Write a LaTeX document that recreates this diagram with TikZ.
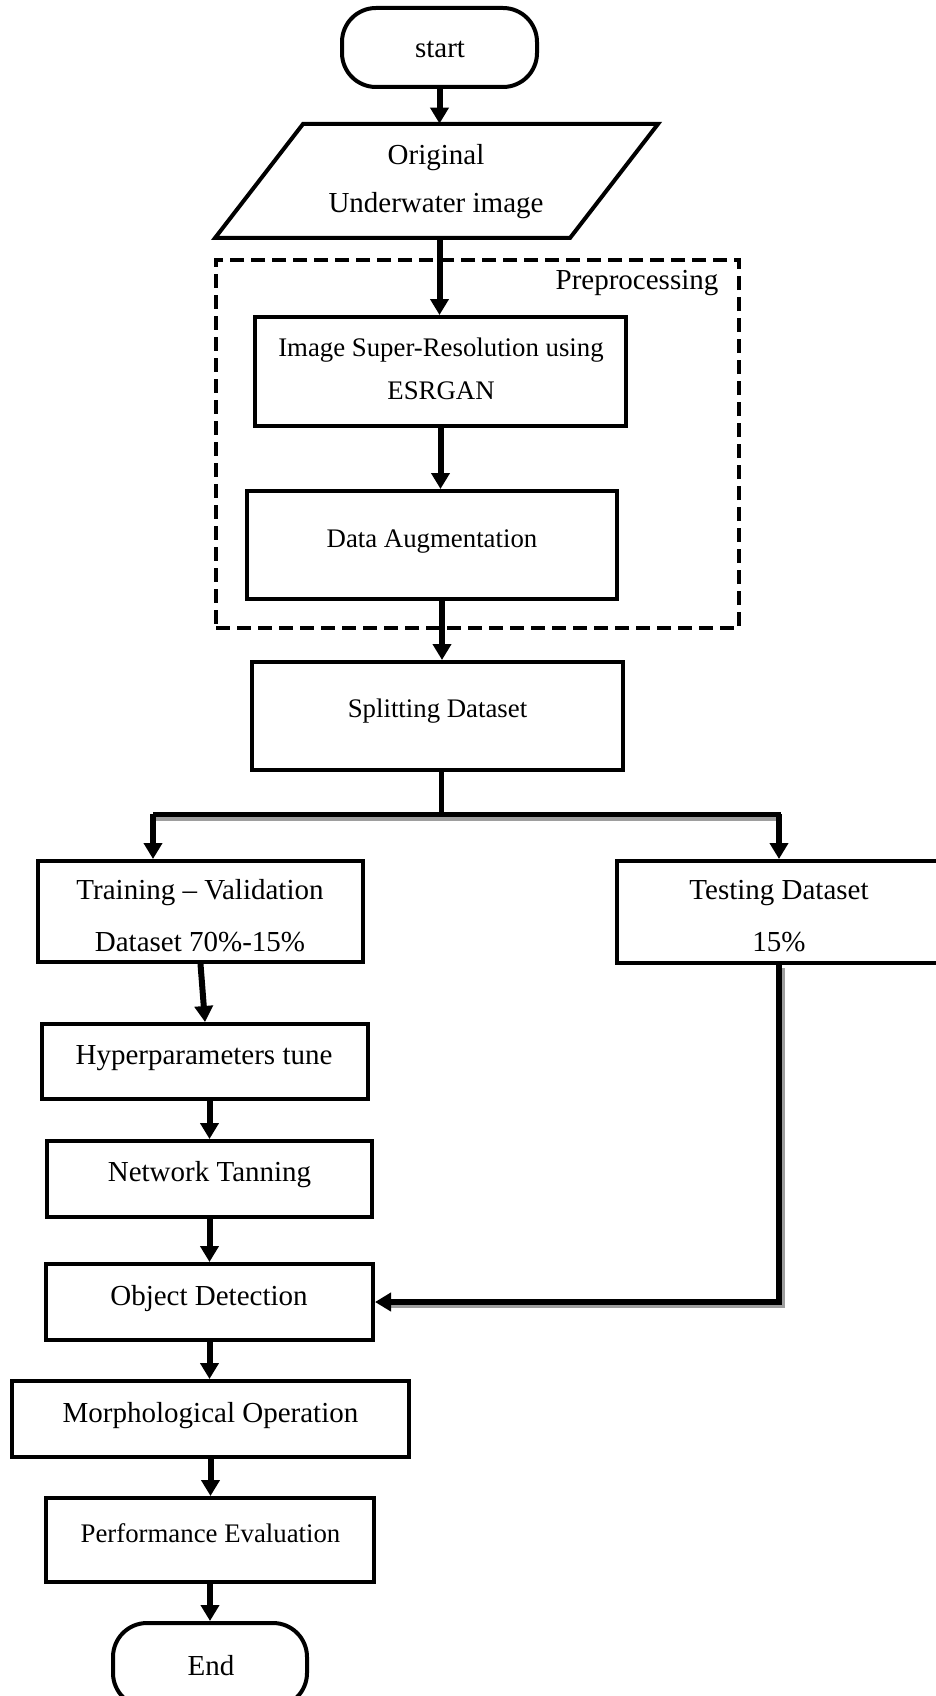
\documentclass[tikz,border=0pt]{standalone}
\usepackage{fontspec}
\setmainfont{Liberation Serif}
\usetikzlibrary{arrows.meta}
\newcommand{\figbig}{\fontsize{14.5pt}{17pt}\selectfont}
\newcommand{\figsmall}{\fontsize{13.4pt}{16pt}\selectfont}
\tikzset{
  boxnode/.style={draw, line width=2pt, inner sep=0pt, fill=white},
  termnode/.style={boxnode, rounded corners=17pt},
  txtA/.style={anchor=base, font=\figbig, inner sep=0pt},
  txtB/.style={anchor=base, font=\figsmall, inner sep=0pt},
  arr/.style={line width=3pt, -{Triangle[length=8pt,width=9pt]}},
  plainline/.style={line width=2.2pt},
  shadowline/.style={line width=2.5pt, draw=black!38},
  dashbox/.style={draw, line width=1.8pt, dash pattern=on 7pt off 3.5pt},
}
\begin{document}
\begin{tikzpicture}[x=0.5pt,y=-0.5pt]
\useasboundingbox (0,0) rectangle (936,1696);
\clip (0,0) rectangle (936,1696);
\fill[white] (0,0) rectangle (936,1696);

% preprocessing frame
\node[dashbox, minimum width=261.5pt, minimum height=184pt, inner sep=0pt] (pre) at (477.5,444) {};
\node[txtA] (pretxt) at (637,289) {Preprocessing};

% start
\node[termnode, minimum width=97.5pt, minimum height=39.5pt] (start) at (439.5,47.5) {};
\node[txtA] (starttxt) at (440,58) {start};

% input parallelogram
\node[inner sep=0pt, minimum width=177.5pt, minimum height=57pt] (inp) at (436.5,181) {};
\draw[line width=2pt, fill=white] (303,124) -- (658,124) -- (570,238) -- (215,238) -- cycle;
\node[txtA] (inptxta) at (436,165) {Original};
\node[txtA] (inptxtb) at (436,213) {Underwater image};

% ESRGAN
\node[boxnode, minimum width=185.5pt, minimum height=54.5pt] (esr) at (440.5,371.5) {};
\node[txtB] (esrtxta) at (441,356) {Image Super-Resolution using};
\node[txtB] (esrtxtb) at (441,399) {ESRGAN};

% augmentation
\node[boxnode, minimum width=185pt, minimum height=54pt] (aug) at (432,545) {};
\node[txtB] (augtxt) at (432,547) {Data Augmentation};

% splitting
\node[boxnode, minimum width=185.5pt, minimum height=54pt] (split) at (437.5,716) {};
\node[txtB] (splittxt) at (437.5,717) {Splitting Dataset};

% training / testing
\node[boxnode, minimum width=162.5pt, minimum height=50.5pt] (train) at (200.5,911.5) {};
\node[txtA] (traintxta) at (200,899) {Training – Validation};
\node[txtA] (traintxtb) at (200,951) {Dataset 70\%-15\%};

\node[boxnode, minimum width=162pt, minimum height=51pt] (test) at (779,912) {};
\node[txtA] (testtxta) at (779,899) {Testing Dataset};
\node[txtA] (testtxtb) at (779,951) {15\%};

% left column
\node[boxnode, minimum width=163pt, minimum height=37.5pt] (hyper) at (205,1061.5) {};
\node[txtA] (hypertxt) at (204,1064) {Hyperparameters tune};

\node[boxnode, minimum width=162.5pt, minimum height=38pt] (net) at (209.5,1179) {};
\node[txtA] (nettxt) at (209.5,1181) {Network Tanning};

\node[boxnode, minimum width=163.5pt, minimum height=38pt] (obj) at (209.5,1302) {};
\node[txtA] (objtxt) at (209,1305) {Object Detection};

\node[boxnode, minimum width=198.5pt, minimum height=38pt] (morph) at (210.5,1419) {};
\node[txtA] (morphtxt) at (210.5,1422) {Morphological Operation};

\node[boxnode, minimum width=164pt, minimum height=42pt] (perf) at (210,1540) {};
\node[txtB] (perftxt) at (210.5,1542) {Performance Evaluation};

\node[termnode, minimum width=97pt, minimum height=42pt] (end) at (210,1665) {};
\node[txtA] (endtxt) at (211,1675) {End};

% connectors
\draw[arr] (start.south) -- (start.south |- inp.north);
\draw[arr] (start.south |- inp.south) -- (start.south |- esr.north);
\draw[arr] (esr.south) -- (esr.south |- aug.north);
\draw[arr] ([xshift=5pt]aug.south) -- ([xshift=5pt]aug.south |- split.north);

\coordinate (bL) at (153,814);
\coordinate (bR) at (781,814);
\draw[plainline] ([xshift=2pt]split.south) -- ([xshift=2pt]split.south |- bL);
\draw[shadowline] ([yshift=-2pt]bL) -- ([yshift=-2pt]bR);
\draw[line width=2.5pt] (bL) -- (bR);
\draw[arr] (bL) -- (bL |- train.north);
\draw[arr] (test.north |- bL) -- (test.north);

\coordinate (tc) at (test.south |- obj.east);
\draw[shadowline] ([shift={(1.5pt,-1.5pt)}]test.south) -- ([shift={(1.5pt,-1.5pt)}]tc) -- ([shift={(8pt,-1.5pt)}]obj.east);
\draw[arr] (test.south) -- (tc) -- (obj.east);

\draw[arr] (train.south) -- (hyper.north);
\draw[arr] (hyper.south -| net.north) -- (net.north);
\draw[arr] (net.south) -- (obj.north);
\draw[arr] (obj.south) -- (obj.south |- morph.north);
\draw[arr] (morph.south) -- (morph.south |- perf.north);
\draw[arr] (perf.south) -- (perf.south |- end.north);
\end{tikzpicture}
\end{document}
